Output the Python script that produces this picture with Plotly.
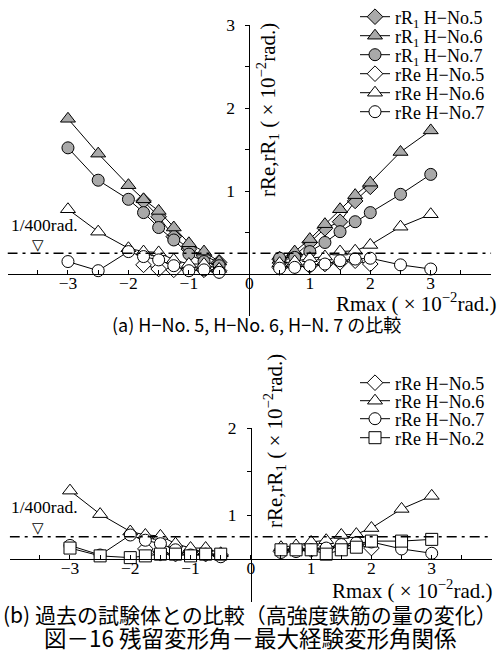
import plotly.graph_objects as go

W, H = 500, 653
SERIF = "Liberation Serif"
CJK = "Noto Sans CJK JP"
GRAY = "#a9a9a9"

# ---------------- data (×10^-2 rad) ----------------
x_neg = [-3, -2.5, -2, -1.75, -1.5, -1.25, -1, -0.75, -0.5]
x_pos = [0.5, 0.75, 1, 1.25, 1.5, 1.75, 2, 2.5, 3]
x_neg_h5 = [-1.75, -1.5, -1.25, -1, -0.75, -0.5]
x_pos_h5 = [0.5, 0.75, 1, 1.25, 1.5, 1.75, 2]

rR1_h5_neg = [0.88, 0.69, 0.45, 0.30, 0.22, 0.14]
rR1_h5_pos = [0.18, 0.22, 0.38, 0.55, 0.63, 0.88, 1.05]
rR1_h6_neg = [1.87, 1.45, 1.07, 0.90, 0.76, 0.56, 0.37, 0.27, 0.15]
rR1_h6_pos = [0.17, 0.27, 0.42, 0.60, 0.78, 0.95, 1.10, 1.47, 1.73]
rR1_h7_neg = [1.52, 1.13, 0.90, 0.74, 0.56, 0.41, 0.24, 0.15, 0.10]
rR1_h7_pos = [0.19, 0.20, 0.27, 0.38, 0.51, 0.63, 0.74, 0.96, 1.20]

rRe_h5_neg = [0.11, 0.06, 0.05, 0.06, 0.05, 0.04]
rRe_h5_pos = [0.08, 0.10, 0.10, 0.12, 0.14, 0.16, 0.12]
rRe_h6_neg = [0.78, 0.51, 0.31, 0.27, 0.26, 0.17, 0.12, 0.12, 0.06]
rRe_h6_pos = [0.13, 0.15, 0.19, 0.21, 0.27, 0.28, 0.35, 0.57, 0.72]
rRe_h7_neg = [0.15, 0.04, 0.27, 0.21, 0.17, 0.10, 0.04, 0.05, 0.02]
rRe_h7_pos = [0.07, 0.08, 0.10, 0.12, 0.16, 0.18, 0.19, 0.11, 0.06]
rRe_h2_neg = [0.12, 0.03, 0.01, 0.03, 0.05, 0.05, 0.03, 0.05, 0.05]
rRe_h2_pos = [0.10, 0.10, 0.10, 0.05, 0.10, 0.13, 0.20, 0.20, 0.22]

limit_1_400 = 0.25

x_tickvals = [-3, -2, -1, 0, 1, 2, 3]
x_ticktext = ["−3", "−2", "−1", "0", "1", "2", "3"]
x_minorvals = [-4, -3.5, -2.5, -1.5, -0.5, 0.5, 1.5, 2.5, 3.5, 4]
ya_tickvals = [1, 2, 3]
ya_ticktext = ["1", "2", "3"]
ya_minorvals = [0.5, 1.5, 2.5]
yb_tickvals = [0.5, 1.5]
yb_ticktext = ["1", "2"]
yb_minorvals = [1.0]


def join(xn, yn, xp, yp):
    return list(xn) + [None] + list(xp), list(yn) + [None] + list(yp)


def px(p):
    return p / W


def py(p):
    return 1 - p / H


fig = go.Figure()

series_a = [
    ("rR<sub>1</sub> H−No.5", x_neg_h5, rR1_h5_neg, x_pos_h5, rR1_h5_pos, "diamond", GRAY, 12),
    ("rR<sub>1</sub> H−No.6", x_neg, rR1_h6_neg, x_pos, rR1_h6_pos, "triangle-up", GRAY, 13),
    ("rR<sub>1</sub> H−No.7", x_neg, rR1_h7_neg, x_pos, rR1_h7_pos, "circle", GRAY, 12),
    ("rRe H−No.5", x_neg_h5, rRe_h5_neg, x_pos_h5, rRe_h5_pos, "diamond", "white", 12),
    ("rRe H−No.6", x_neg, rRe_h6_neg, x_pos, rRe_h6_pos, "triangle-up", "white", 13),
    ("rRe H−No.7", x_neg, rRe_h7_neg, x_pos, rRe_h7_pos, "circle", "white", 12),
]
series_b = [
    ("rRe H−No.5", x_neg_h5, rRe_h5_neg, x_pos_h5, rRe_h5_pos, "diamond", "white", 12),
    ("rRe H−No.6", x_neg, rRe_h6_neg, x_pos, rRe_h6_pos, "triangle-up", "white", 13),
    ("rRe H−No.7", x_neg, rRe_h7_neg, x_pos, rRe_h7_pos, "circle", "white", 12),
    ("rRe H−No.2", x_neg, rRe_h2_neg, x_pos, rRe_h2_pos, "square", "white", 12),
]

leg_rows_a = [17, 36, 55, 74, 93, 112]
leg_rows_b = [383, 401, 419, 438]
legends = {}
k = 1
for (name, xn, yn, xp, yp, sym, fill, size), row in zip(series_a, leg_rows_a):
    xs, ys = join(xn, yn, xp, yp)
    lid = "legend" if k == 1 else f"legend{k}"
    fig.add_trace(go.Scatter(
        x=xs, y=ys, mode="lines+markers", name=name, xaxis="x", yaxis="y",
        line=dict(color="black", width=1), cliponaxis=False,
        marker=dict(symbol=sym, size=size, color=fill, line=dict(color="black", width=1)),
        legend=lid, showlegend=True))
    legends[lid] = row
    k += 1
for (name, xn, yn, xp, yp, sym, fill, size), row in zip(series_b, leg_rows_b):
    xs, ys = join(xn, yn, xp, yp)
    lid = f"legend{k}"
    fig.add_trace(go.Scatter(
        x=xs, y=ys, mode="lines+markers", name=name, xaxis="x2", yaxis="y2",
        line=dict(color="black", width=1), cliponaxis=False,
        marker=dict(symbol=sym, size=size, color=fill, line=dict(color="black", width=1)),
        legend=lid, showlegend=True))
    legends[lid] = row
    k += 1

for lid, row in legends.items():
    fig.update_layout({lid: dict(
        x=px(355), y=py(row), xanchor="left", yanchor="middle",
        bgcolor="rgba(0,0,0,0)", borderwidth=0,
        font=dict(family=SERIF, size=18, color="black"), itemwidth=30)})

# geometry
xa_dom = [px(7.5), px(491.2)]
ya_dom = [py(315.5), py(25)]
xb_dom = [px(9.7), px(492)]
yb_dom = [py(602), py(428)]

tickfont = dict(family=SERIF, size=17.5, color="black")
common_x = dict(range=[-4, 4], showgrid=False, zeroline=False, showline=True,
                linecolor="black", linewidth=1, ticks="inside", ticklen=4,
                tickcolor="black", tickmode="array", tickvals=x_tickvals, ticktext=x_ticktext,
                minor=dict(tickmode="array", tickvals=x_minorvals, ticks="inside",
                           ticklen=4, tickcolor="black", showgrid=False),
                tickfont=tickfont, anchor="free", fixedrange=True, ticklabelstandoff=-7)
common_y = dict(showgrid=False, zeroline=False, showline=True, linecolor="black",
                linewidth=1, ticks="outside", ticklen=4, tickcolor="black",
                tickfont=tickfont, anchor="free", ticklabelstandoff=7, fixedrange=True,
                tickmode="array")

fig.update_layout(
    xaxis=dict(domain=xa_dom, position=py(274), **common_x),
    yaxis=dict(domain=ya_dom, range=[-0.5, 3], position=px(249.4),
               tickvals=ya_tickvals, ticktext=ya_ticktext,
               minor=dict(tickmode="array", tickvals=ya_minorvals, ticks="outside",
                          ticklen=4, tickcolor="black", showgrid=False),
               **common_y),
    xaxis2=dict(domain=xb_dom, position=py(558.5), **common_x),
    yaxis2=dict(domain=yb_dom, range=[-0.5, 1.5], position=px(250.9),
                tickvals=yb_tickvals, ticktext=yb_ticktext,
                minor=dict(tickmode="array", tickvals=yb_minorvals, ticks="outside",
                           ticklen=4, tickcolor="black", showgrid=False),
                **common_y),
)

# dash-dot 1/400 rad lines
for xr, yr in (("x", "y"), ("x2", "y2")):
    fig.add_shape(type="line", xref=xr, yref=yr, x0=-4, x1=4,
                  y0=limit_1_400, y1=limit_1_400,
                  line=dict(color="black", width=1.5, dash="10px,5px,3px,5px"))

ann = []
ytitle = "rRe,rR<sub>1</sub> ( × 10<sup>−2</sup>rad.)"
xtitle = "Rmax ( × 10<sup>−2</sup>rad.)"
sfont = dict(family=SERIF, size=21, color="black")
ann.append(dict(text=ytitle, x=px(268), y=py(110), textangle=-90, font=sfont,
                xanchor="center", yanchor="middle"))
ann.append(dict(text=ytitle, x=px(274), y=py(441), textangle=-90, font=sfont,
                xanchor="center", yanchor="middle"))
ann.append(dict(text=xtitle, x=px(498), y=py(302), xanchor="right", yanchor="middle", font=sfont))
ann.append(dict(text=xtitle, x=px(494), y=py(589), xanchor="right", yanchor="middle", font=sfont))
for yl, yt in ((225, 245), (507, 528)):
    ann.append(dict(text="1/400rad.", x=px(9), y=py(yl), xanchor="left", yanchor="middle",
                    font=dict(family=SERIF, size=17.5, color="black")))
    ann.append(dict(text="▽", x=px(38), y=py(yt), xanchor="center", yanchor="middle",
                    font=dict(family="DejaVu Sans", size=15, color="black")))
ann.append(dict(text="(a) H−No. 5, H−No. 6, H−N. 7 の比較", x=px(256), y=py(324),
                xanchor="center", yanchor="middle", font=dict(family=CJK, size=18, color="black")))
ann.append(dict(text="(b) 過去の試験体との比較（高強度鉄筋の量の変化）", x=px(250), y=py(614),
                xanchor="center", yanchor="middle", font=dict(family=CJK, size=21, color="black")))
ann.append(dict(text="図－16 残留変形角－最大経験変形角関係", x=px(250), y=py(637),
                xanchor="center", yanchor="middle", font=dict(family=CJK, size=22.5, color="black")))
for a in ann:
    a.update(xref="paper", yref="paper", showarrow=False)

fig.update_layout(annotations=ann, width=W, height=H,
                  margin=dict(l=0, r=0, t=0, b=0, autoexpand=False),
                  paper_bgcolor="white", plot_bgcolor="rgba(0,0,0,0)")

fig.write_html("out.html", config={"displayModeBar": False},
               post_script="document.body.style.margin='0';")
